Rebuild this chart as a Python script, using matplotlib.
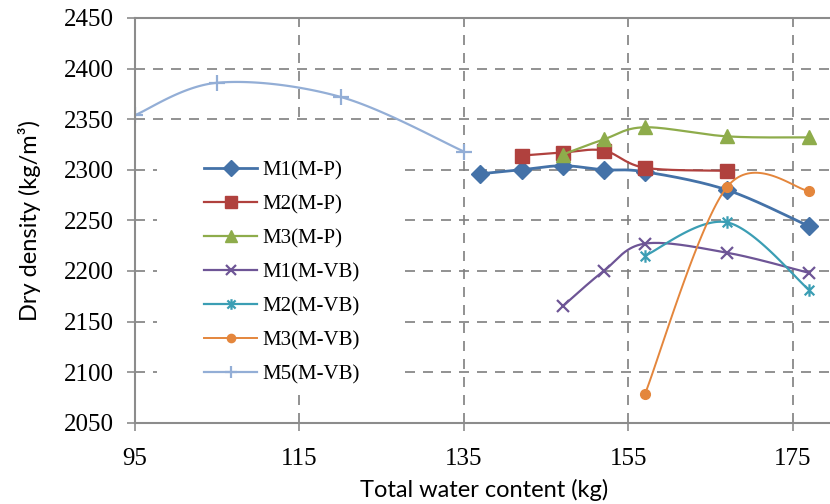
import numpy as np
import matplotlib.pyplot as plt
from matplotlib.path import Path
from matplotlib.patches import Rectangle

# total water content (kg) and dry density (kg/m3) for each mix
x_m1_mp = [137, 142, 147, 152, 157, 167, 177]
y_m1_mp = [2296, 2300, 2304, 2300, 2298, 2280, 2244]

x_m2_mp = [142, 147, 152, 157, 167]
y_m2_mp = [2314, 2317, 2319, 2302, 2299]

x_m3_mp = [147, 152, 157, 167, 177]
y_m3_mp = [2315, 2330, 2342, 2333, 2332]

x_m1_vb = [147, 152, 157, 167, 177]
y_m1_vb = [2165, 2200, 2227, 2218, 2198]

x_m2_vb = [157, 167, 177]
y_m2_vb = [2215, 2248, 2181]

x_m3_vb = [157, 167, 177]
y_m3_vb = [2078, 2283, 2279]

x_m5_vb = [95, 105, 120, 135]
y_m5_vb = [2354, 2386, 2372, 2318]

x_ticks = [95, 115, 135, 155, 175]
y_ticks = [2050, 2100, 2150, 2200, 2250, 2300, 2350, 2400, 2450]

plt.rcParams['font.family'] = 'Liberation Serif'


def smooth(xs, ys, n=40):
    # piecewise cubic bezier through the points (spreadsheet-style smoothed line)
    p = np.column_stack([xs, ys]).astype(float)
    if len(p) < 3:
        return p[:, 0], p[:, 1]
    ext = np.vstack([p[0], p, p[-1]])
    t = np.linspace(0, 1, n)[:, None]
    out = []
    for i in range(len(p) - 1):
        p0, p1 = ext[i + 1], ext[i + 2]
        c1 = p0 + (ext[i + 2] - ext[i]) / 6
        c2 = p1 - (ext[i + 3] - ext[i + 1]) / 6
        seg = ((1 - t) ** 3) * p0 + 3 * ((1 - t) ** 2) * t * c1 \
            + 3 * (1 - t) * t ** 2 * c2 + t ** 3 * p1
        out.append(seg if i == 0 else seg[1:])
    out = np.vstack(out)
    return out[:, 0], out[:, 1]


star = Path([(-1, -1), (1, 1), (-1, 1), (1, -1), (0, -1.3), (0, 1.3)],
            [Path.MOVETO, Path.LINETO, Path.MOVETO, Path.LINETO,
             Path.MOVETO, Path.LINETO])

series = [
    (x_m1_mp, y_m1_mp, 'M1(M-P)', '#4472a8', 'D', 9, 2.0),
    (x_m2_mp, y_m2_mp, 'M2(M-P)', '#b0413e', 's', 10, 1.6),
    (x_m3_mp, y_m3_mp, 'M3(M-P)', '#8eac4b', '^', 10, 1.6),
    (x_m1_vb, y_m1_vb, 'M1(M-VB)', '#6e5596', 'x', 9, 1.6),
    (x_m2_vb, y_m2_vb, 'M2(M-VB)', '#3b9eb4', star, 9, 1.6),
    (x_m3_vb, y_m3_vb, 'M3(M-VB)', '#e4863c', 'o', 7, 1.4),
    (x_m5_vb, y_m5_vb, 'M5(M-VB)', '#93aed6', '+', 11, 1.6),
]

W, H = 830, 504
fig = plt.figure(figsize=(W / 100, H / 100), dpi=100)
ax = fig.add_axes([135 / W, 1 - 422.7 / H, 699 / W, 404.7 / H])

for xs, ys, label, color, marker, ms, lw in series:
    thin = marker in ('x', '+') or marker is star
    sx, sy = smooth(xs, ys)
    ax.plot(sx, sy, color=color, lw=lw, solid_capstyle='round')
    ax.plot(xs, ys, linestyle='none', marker=marker, ms=ms, color=color,
            mec=color, mew=1.6 if thin else 1,
            mfc='none' if marker is star else color)
    # proxy for the legend row
    ax.plot([], [], color=color, lw=lw, marker=marker, ms=ms * 0.85, mec=color,
            mew=1.6 if thin else 1,
            mfc='none' if marker is star else color, label=label)

ax.set_xlim(95, 180)
ax.set_ylim(2050, 2450)
ax.set_xticks(x_ticks, [str(v) for v in x_ticks],
              fontfamily='Liberation Serif', fontsize=18)
ax.set_yticks(y_ticks, [str(v) for v in y_ticks],
              fontfamily='Liberation Serif', fontsize=18)
ax.grid(True, color='#7f7f7f', linestyle=(0, (6, 4.8)), lw=1.2)
ax.set_axisbelow(True)

# white panel behind the legend hides the grid there
ax.add_patch(Rectangle((157 / W, 1 - 393 / H), 246 / W, 268 / H,
                       transform=fig.transFigure, facecolor='white',
                       edgecolor='none', zorder=0.8))

for side in ('left', 'bottom', 'top'):
    ax.spines[side].set_color('#8c8c8c')
    ax.spines[side].set_linewidth(1.5)
ax.spines['right'].set_visible(False)
ax.tick_params(axis='both', direction='out', length=6, width=1.2,
               color='#8c8c8c')
ax.tick_params(axis='y', pad=9)
ax.tick_params(axis='x', pad=12.5)

ax.set_xlabel('Total water content (kg)', fontsize=17, family='Lato',
              labelpad=6)
ax.set_ylabel('Dry density (kg/m³)', fontsize=17, family='Lato',
              labelpad=17)

ax.legend(loc='upper left', bbox_to_anchor=(204 / W, 1 - 161 / H),
          bbox_transform=fig.transFigure, frameon=False,
          prop={'family': 'Liberation Serif', 'size': 15},
          handlelength=2.55, handletextpad=0.25, labelspacing=0.69,
          borderpad=0, borderaxespad=0)

fig.savefig('out.png', dpi=100)
